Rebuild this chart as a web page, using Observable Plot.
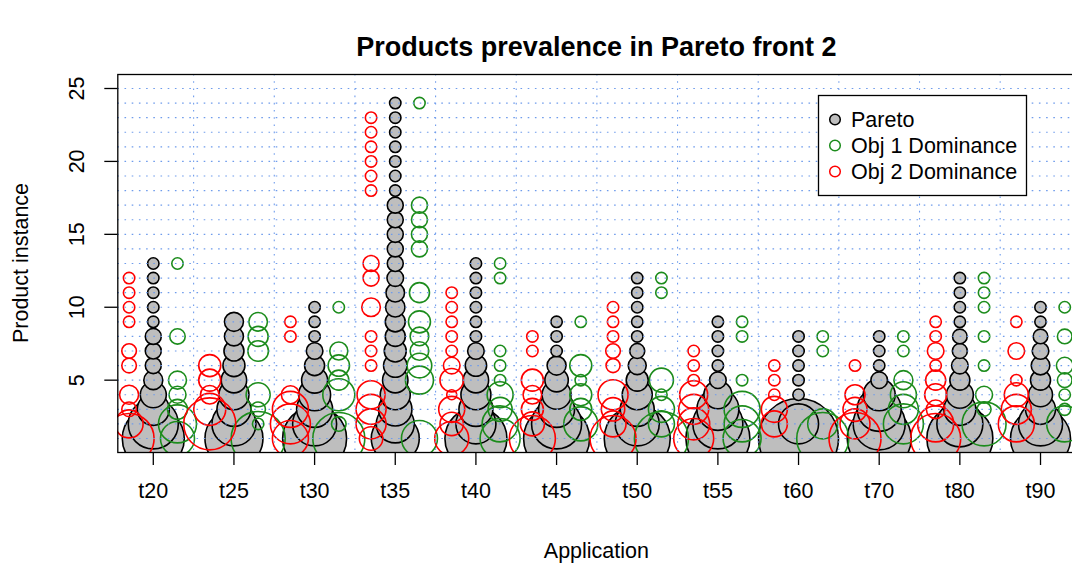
<!DOCTYPE html>
<html><head><meta charset="utf-8">
<script src="https://cdn.jsdelivr.net/npm/d3@7"></script>
<script src="https://cdn.jsdelivr.net/npm/@observablehq/plot@0.6"></script>
<style>
html,body{margin:0;padding:0;background:#fff;overflow:hidden}
#chart{position:relative;width:1072px;height:571px}
</style></head><body><div id="chart"></div>
<script>
const apps = ["t20","t25","t30","t35","t40","t45","t50","t55","t60","t70","t80","t90"];
const yTicks = [5,10,15,20,25];
const seriesNames = ["Pareto","Obj 1 Dominance","Obj 2 Dominance"];

// [application, product instance, prevalence (bubble size)]
const pareto = [
 ["t20",1,31],["t20",2,25],["t20",3,16],["t20",4,13],["t20",5,9.5],["t20",6,8],["t20",7,8],["t20",8,8],["t20",9,5.7],["t20",10,5.7],["t20",11,5.7],["t20",12,5.7],["t20",13,5.7],
 ["t25",1,29],["t25",2,22],["t25",3,17],["t25",4,15],["t25",5,12.7],["t25",6,11],["t25",7,10],["t25",8,9.5],["t25",9,9.5],
 ["t30",1,32],["t30",2,22],["t30",3,18],["t30",4,16],["t30",5,13],["t30",6,10],["t30",7,8.3],["t30",8,5.7],["t30",9,5.7],["t30",10,5.7],
 ["t35",1,24],["t35",2,19],["t35",3,16.7],["t35",4,15],["t35",5,12.7],["t35",6,11.7],["t35",7,11],["t35",8,10],["t35",9,10],["t35",10,9.7],["t35",11,9.3],["t35",12,8.3],["t35",13,8],["t35",14,8],["t35",15,8],["t35",16,8],["t35",17,8],["t35",18,5.7],["t35",19,5.7],["t35",20,5.7],["t35",21,5.7],["t35",22,5.7],["t35",23,5.7],["t35",24,5.7],
 ["t40",1,31],["t40",2,20],["t40",3,17],["t40",4,15],["t40",5,12.7],["t40",6,10.7],["t40",7,8.3],["t40",8,5.7],["t40",9,5.7],["t40",10,5.7],["t40",11,5.7],["t40",12,5.7],["t40",13,5.7],
 ["t45",1,33],["t45",2,25],["t45",3,18],["t45",4,14.5],["t45",5,11.7],["t45",6,9.5],["t45",7,5.7],["t45",8,5.7],["t45",9,5.7],
 ["t50",1,33],["t50",2,22],["t50",3,17],["t50",4,15],["t50",5,11],["t50",6,9],["t50",7,7.5],["t50",8,5.7],["t50",9,5.7],["t50",10,5.7],["t50",11,5.7],["t50",12,5.7],
 ["t55",1,32],["t55",2,25],["t55",3,21],["t55",4,14],["t55",5,8.3],["t55",6,5.7],["t55",7,5.7],["t55",8,5.7],["t55",9,5.7],
 ["t60",1,40],["t60",2,20],["t60",4,5.7],["t60",5,5.7],["t60",6,5.7],["t60",7,5.7],["t60",8,5.7],
 ["t70",1,32],["t70",2,26],["t70",3,22],["t70",4,16],["t70",5,8.3],["t70",6,5.7],["t70",7,5.7],["t70",8,5.7],
 ["t80",1,33],["t80",2,23],["t80",3,16],["t80",4,13.5],["t80",5,10],["t80",6,8.3],["t80",7,7.5],["t80",8,7.3],["t80",9,5.7],["t80",10,5.7],["t80",11,5.7],["t80",12,5.7],
 ["t90",1,30],["t90",2,22],["t90",3,15],["t90",4,12],["t90",5,10],["t90",6,9.3],["t90",7,8.3],["t90",8,7.3],["t90",9,5.7],["t90",10,5.7]
];

const obj1 = [
 ["t20",1,17],["t20",2,19],["t20",3,10],["t20",4,8.5],["t20",5,9],["t20",8,7.7],["t20",13,5.7],
 ["t25",1,27],["t25",2,5.7],["t25",3,7.3],["t25",4,12],["t25",7,10.3],["t25",8,10],["t25",9,9.3],
 ["t30",1,26],["t30",2,7.3],["t30",4,16],["t30",5,10],["t30",6,10.7],["t30",7,9],["t30",10,5.7],
 ["t35",1,18],["t35",5,14],["t35",6,12.3],["t35",7,9.3],["t35",8,9.3],["t35",9,11],["t35",11,10],["t35",14,8],["t35",15,8],["t35",16,8],["t35",17,8],["t35",24,5.7],
 ["t40",1,20],["t40",2,18],["t40",3,12],["t40",4,13],["t40",5,5.7],["t40",6,5.7],["t40",7,5.7],["t40",12,5.7],["t40",13,5.7],
 ["t45",2,17],["t45",3,11],["t45",4,11],["t45",5,5.7],["t45",6,11],["t45",9,5.7],
 ["t50",1,27],["t50",2,13],["t50",3,13],["t50",4,5.7],["t50",5,12],["t50",11,5.7],["t50",12,5.7],
 ["t55",1,19],["t55",2,18],["t55",3,18],["t55",5,5.7],["t55",8,5.7],["t55",9,5.7],
 ["t60",1,26],["t60",2,15],["t60",7,5.7],["t60",8,5.7],
 ["t70",2,20],["t70",3,15],["t70",4,13],["t70",5,9.5],["t70",7,5.7],["t70",8,5.7],
 ["t80",2,22],["t80",3,7],["t80",4,8.5],["t80",6,5.7],["t80",8,5.7],["t80",10,5.7],["t80",11,5.7],["t80",12,5.7],
 ["t90",2,18],["t90",3,6],["t90",4,5.7],["t90",5,7.3],["t90",6,8.3],["t90",8,7.3],["t90",10,5.7]
];

const obj2 = [
 ["t20",1,25],["t20",2,14],["t20",3,7.3],["t20",4,9.5],["t20",6,7.3],["t20",7,7.3],["t20",9,5.7],["t20",10,5.7],["t20",11,5.7],["t20",12,5.7],
 ["t25",2,26],["t25",3,16],["t25",4,9.3],["t25",5,11],["t25",6,11],
 ["t30",1,18],["t30",2,20],["t30",3,18],["t30",4,9],["t30",8,5.7],["t30",9,5.7],
 ["t35",1,11.7],["t35",2,15],["t35",3,15],["t35",4,14],["t35",6,5.7],["t35",7,5.7],["t35",8,5.7],["t35",10,9.3],["t35",12,8],["t35",13,8],["t35",18,5.7],["t35",19,5.7],["t35",20,5.7],["t35",21,5.7],["t35",22,5.7],["t35",23,5.7],
 ["t40",1,17],["t40",2,11.7],["t40",3,13],["t40",4,5],["t40",5,11.7],["t40",6,8.3],["t40",7,5.7],["t40",8,5.7],["t40",9,5.7],["t40",10,5.7],["t40",11,5.7],
 ["t45",1,23],["t45",2,12],["t45",3,11],["t45",4,9.3],["t45",5,11],["t45",7,5.7],["t45",8,5.7],
 ["t50",1,23],["t50",2,13],["t50",3,11.7],["t50",4,15],["t50",6,7],["t50",7,7.3],["t50",8,5.7],["t50",9,5.7],["t50",10,5.7],
 ["t55",1,20],["t55",2,16],["t55",3,15],["t55",4,14],["t55",5,5.7],["t55",6,5.7],["t55",7,5.7],
 ["t60",2,13],["t60",3,13],["t60",4,5.7],["t60",5,5.7],["t60",6,5.7],
 ["t70",1,26],["t70",2,15],["t70",3,12],["t70",4,10],["t70",6,5.7],
 ["t80",1,25],["t80",2,18],["t80",3,9.3],["t80",4,11],["t80",5,10],["t80",6,5.7],["t80",7,8.3],["t80",8,5.7],["t80",9,5.7],
 ["t90",2,18],["t90",3,15],["t90",4,12],["t90",5,5.7],["t90",7,8.3],["t90",9,5.7]
];

const FONT = "'Liberation Sans', Arial, Helvetica, sans-serif";
const GRAY = "#BEBEBE", GREEN = "#1c8c1c", RED = "#ff0000", GRID = "#6f9cec";
const FS = 21.5;
const xOf = (app, off) => apps.indexOf(app) + 1 + off;

const plot = Plot.plot({
  width: 1072, height: 571,
  marginLeft: 117.3, marginRight: -3.5, marginTop: 74, marginBottom: 119,
  style: {fontFamily: FONT, fontSize: FS + "px", color: "black", background: "white"},
  x: {domain: [0.56, 12.44], axis: null},
  y: {domain: [0.04, 25.96], axis: null},
  r: {type: "linear", domain: [0, 40], range: [0, 40]},
  marks: [
    Plot.dot(pareto, {x: d => xOf(d[0], 0), y: d => d[1], r: d => d[2], fill: GRAY, stroke: "black", strokeWidth: 1.6, clip: true}),
    Plot.dot(obj1, {x: d => xOf(d[0], 0.3), y: d => d[1], r: d => d[2], fill: "none", stroke: GREEN, strokeWidth: 1.6, clip: true}),
    Plot.dot(obj2, {x: d => xOf(d[0], -0.3), y: d => d[1], r: d => d[2], fill: "none", stroke: RED, strokeWidth: 1.6, clip: true}),
    Plot.ruleY(d3.range(1, 26), {stroke: GRID, strokeWidth: 1.1, strokeDasharray: "1.6,5.6"}),
    Plot.ruleX(d3.range(1.5, 12, 1), {stroke: GRID, strokeWidth: 1.1, strokeDasharray: "1.6,5.6"}),
    Plot.frame({stroke: "black", strokeWidth: 1.3}),
    Plot.axisX({ticks: d3.range(1, 13), tickFormat: i => apps[i - 1], tickSize: 13, tickPadding: 17, fontSize: FS, label: null, stroke: "black", strokeWidth: 1.3}),
    Plot.axisY({ticks: yTicks, tickSize: 13, tickFormat: () => "", label: null, stroke: "black", strokeWidth: 1.3}),
    Plot.text(yTicks, {y: d => d, text: d => String(d), frameAnchor: "left", dx: -34, rotate: -90, textAnchor: "middle", lineAnchor: "bottom", fontSize: FS})
  ]
});

const svg = d3.select(plot);
svg.append("text").attr("x", 596.4).attr("y", 56).attr("text-anchor", "middle")
  .attr("font-family", FONT).attr("font-size", 27).attr("font-weight", "bold").attr("fill", "black")
  .text("Products prevalence in Pareto front 2");
svg.append("text").attr("x", 596.4).attr("y", 558).attr("text-anchor", "middle")
  .attr("font-family", FONT).attr("font-size", FS).attr("fill", "black").text("Application");
svg.append("text").attr("transform", "translate(28,263) rotate(-90)").attr("text-anchor", "middle")
  .attr("font-family", FONT).attr("font-size", FS).attr("fill", "black").text("Product instance");

// legend
const lg = svg.append("g");
lg.append("rect").attr("x", 818.5).attr("y", 95.5).attr("width", 208).attr("height", 100)
  .attr("fill", "white").attr("stroke", "black").attr("stroke-width", 1.3);
const lstyles = [{fill: GRAY, stroke: "black"}, {fill: "none", stroke: GREEN}, {fill: "none", stroke: RED}];
seriesNames.forEach((name, i) => {
  const cy = 119.5 + i * 26;
  lg.append("circle").attr("cx", 835).attr("cy", cy).attr("r", 5.3)
    .attr("fill", lstyles[i].fill).attr("stroke", lstyles[i].stroke).attr("stroke-width", 1.5);
  lg.append("text").attr("x", 851).attr("y", cy).attr("dy", "0.36em").attr("text-anchor", "start")
    .attr("font-family", FONT).attr("font-size", FS).attr("fill", "black").text(name);
});

document.getElementById("chart").appendChild(plot);
</script>
</body></html>
